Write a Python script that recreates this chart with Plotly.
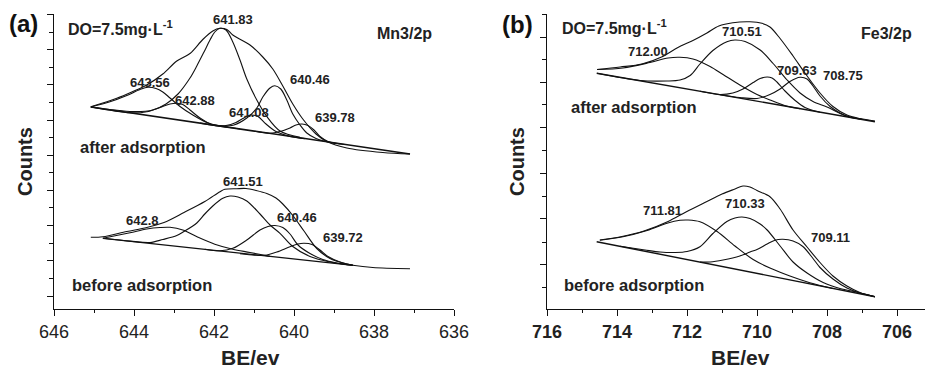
import plotly.graph_objects as go

FONT = "Liberation Sans, Arial, sans-serif"
INK = "#111111"

# ---------------- Panel (a): Mn 2p3/2 ----------------
# after adsorption
mn_after_base_be = [645.08, 637.10]
mn_after_base_cts = [202.0, 155.0]
mn_after_env_be = [645.08, 644.43, 644.03, 643.68, 643.28, 642.93, 642.60, 642.28, 642.03, 641.85, 641.68, 641.53,
                   641.10, 640.78, 640.53, 640.28, 640.03, 639.78, 639.45, 639.18, 638.68, 637.78, 637.10]
mn_after_env_cts = [202.3, 210.8, 217.5, 224, 235, 248, 255.5, 269.5, 278, 280.7, 279.5, 274,
                    264, 252, 240, 223, 205, 190, 175, 167.5, 161, 156.5, 155]
mn_after_p64356_be = [645.08, 644.60, 644.18, 643.85, 643.65, 643.45, 643.28, 643.10, 642.85, 642.53, 642.18, 641.85, 641.35]
mn_after_p64356_cts = [202, 207.2, 213.5, 219.5, 221.7, 220.5, 217, 211, 202.5, 194, 186.5, 183, 180]
mn_after_p64288_be = [645.08, 644.10, 643.68, 643.35, 643.10, 642.93, 642.78, 642.60, 642.35, 642.03, 641.65]
mn_after_p64288_cts = [202, 196.2, 197.3, 201.5, 205, 205.7, 204.5, 199, 191, 184, 181.7]
mn_after_p64183_be = [645.08, 644.03, 643.53, 643.20, 642.90, 642.60, 642.43, 642.25, 642.10, 641.98, 641.85, 641.70,
                      641.53, 641.35, 641.18, 640.93, 640.68, 640.35, 639.85]
mn_after_p64183_cts = [202, 197.5, 199, 205, 215, 231, 243, 257, 269, 277, 280.7, 279,
                       267, 249, 230, 209, 192.5, 178, 171.7]
mn_after_p64108_be = [642.35, 641.98, 641.70, 641.45, 641.28, 641.08, 640.90, 640.70, 640.45, 640.10, 639.73]
mn_after_p64108_cts = [185.9, 183.7, 183.5, 186.5, 190.5, 194, 192.5, 185, 177.5, 172.6, 170.4]
mn_after_p64046_be = [641.85, 641.50, 641.18, 640.93, 640.78, 640.60, 640.48, 640.33, 640.18, 640.03, 639.85, 639.68,
                      639.45, 639.10, 638.73]
mn_after_p64046_cts = [183, 184, 191, 201, 212, 221, 223.3, 220, 209, 195, 184, 176, 170.5, 166.5, 164.5]
mn_after_p63978_be = [640.98, 640.60, 640.35, 640.10, 639.95, 639.80, 639.65, 639.50, 639.35, 639.15, 638.85]
mn_after_p63978_cts = [177.8, 175.8, 177.5, 181, 184, 185, 183.5, 179, 172.5, 167.5, 165.2]

# before adsorption
mn_before_base_be = [644.77, 638.52]
mn_before_base_cts = [70.7, 43.7]
mn_before_env_be = [645.08, 644.78, 644.18, 643.68, 643.25, 642.75, 642.23, 641.85, 641.73, 641.43, 641.20, 640.95,
                    640.68, 640.45, 640.28, 640.03, 639.75, 639.43, 639.10, 638.68, 638.53, 638.03, 637.10]
mn_before_env_cts = [71.7, 72.2, 77.5, 81.5, 86.5, 96.5, 107.5, 117.3, 119.7, 120.3, 120.5, 118.5,
                     115.5, 111, 105, 93.5, 78, 60.5, 50.5, 45, 43.8, 41.5, 40.3]
mn_before_p6428_be = [644.78, 644.10, 643.68, 643.35, 643.10, 642.78, 642.40, 641.98, 641.53, 641.10, 640.60]
mn_before_p6428_cts = [70.7, 76.3, 80, 81.5, 81.7, 79, 71.7, 64.7, 59.7, 56.5, 52.6]
mn_before_p64151_be = [644.78, 644.10, 643.60, 643.28, 642.93, 642.75, 642.43, 642.23, 642.03, 641.78, 641.60, 641.40,
                       641.18, 640.85, 640.60, 640.35, 640.03, 639.60, 639.10, 638.53]
mn_before_p64151_cts = [70.7, 67.9, 66.5, 69.5, 73.5, 77.5, 86, 95, 103, 110.7, 113, 112,
                        108, 95, 84, 75.7, 62.5, 52.5, 47, 43.7]
mn_before_p64046_be = [642.23, 641.85, 641.53, 641.18, 640.85, 640.65, 640.48, 640.28, 640.10, 639.90, 639.60, 639.28,
                       638.93, 638.53]
mn_before_p64046_cts = [59.7, 58.2, 60.7, 69, 79, 82.5, 83.5, 81.5, 75, 64, 55.5, 49.5, 46, 43.7]
mn_before_p63972_be = [641.35, 640.98, 640.73, 640.43, 640.10, 639.90, 639.75, 639.55, 639.35, 639.15, 638.85, 638.53]
mn_before_p63972_cts = [55.3, 53.8, 53.7, 57, 62.3, 65, 65.7, 64.5, 59, 52.5, 47, 43.7]

# ---------------- Panel (b): Fe 2p3/2 ----------------
fe_after_base_be = [714.58, 706.63]
fe_after_base_cts = [235.7, 187.3]
fe_after_env_be = [714.57, 713.91, 713.29, 712.71, 712.26, 711.83, 711.43, 711.09, 710.69, 710.20, 709.86, 709.63,
                   709.34, 708.97, 708.60, 708.20, 707.83, 707.43, 707.06, 706.63]
fe_after_env_cts = [239.5, 242, 245, 252.3, 261.5, 268.5, 276, 283, 286.3, 287.2, 285.7, 282,
                    270.5, 253, 234.5, 216, 202.5, 194, 190.5, 188]
fe_after_p71200_be = [714.57, 713.83, 713.06, 712.54, 712.20, 711.83, 711.34, 710.97, 710.49, 710.00, 709.63, 709.14, 708.77]
fe_after_p71200_cts = [239.5, 241, 246.5, 251, 251.7, 250, 242.5, 234.5, 224, 214.5, 209, 202.7, 200.4]
fe_after_p71051_be = [714.57, 713.34, 712.57, 712.20, 711.91, 711.63, 711.26, 710.86, 710.63, 710.34, 709.91, 709.54,
                      709.14, 708.77, 708.40, 708.00, 707.49, 707.06]
fe_after_p71051_cts = [235.7, 228.5, 228, 229, 233.5, 245, 258.5, 267.3, 269, 267.5, 259, 245.5,
                       229, 216, 207.5, 202, 193.5, 190]
fe_after_p70963_be = [711.63, 711.06, 710.69, 710.40, 710.11, 709.91, 709.71, 709.57, 709.43, 709.20, 708.91, 708.63, 708.20]
fe_after_p70963_cts = [217.7, 214.5, 216, 220, 226.5, 230.5, 232, 231, 227, 218, 208.5, 201.5, 196.7]
fe_after_p70875_be = [711.06, 710.49, 710.00, 709.63, 709.34, 709.06, 708.77, 708.57, 708.40, 708.20, 707.91, 707.63,
                      707.34, 707.00]
fe_after_p70875_cts = [214.3, 211.5, 210.5, 214.5, 220, 227.5, 231.7, 230, 223, 213, 202.5, 196, 191.7, 189.6]

fe_before_base_be = [714.58, 706.63]
fe_before_base_cts = [67.3, 12.3]
fe_before_env_be = [714.49, 713.89, 713.23, 712.54, 712.03, 711.49, 711.00, 710.63, 710.40, 710.20, 710.00, 709.63,
                    709.34, 708.97, 708.57, 708.20, 707.83, 707.43, 707.06, 706.63]
fe_before_env_cts = [69, 72.3, 78, 87.5, 97, 106.5, 115, 120, 123, 122, 118.5, 112.3,
                     100, 79, 62, 46.5, 33, 23, 16.5, 12.3]
fe_before_p71181_be = [714.49, 713.83, 713.14, 712.57, 712.20, 711.97, 711.63, 711.14, 710.63, 710.11, 709.63, 709.06,
                       708.49, 707.83]
fe_before_p71181_cts = [68.7, 72.2, 78.5, 85.7, 88.7, 89, 87.3, 77.5, 63, 49.5, 41, 33, 26.3, 20.5]
fe_before_p71033_be = [713.91, 713.20, 712.77, 712.34, 712.00, 711.63, 711.26, 710.86, 710.63, 710.43, 710.20, 709.91,
                       709.71, 709.34, 708.97, 708.57, 708.11, 707.63, 707.11, 706.63]
fe_before_p71033_cts = [62.7, 59, 57, 56.5, 57.5, 62.3, 75.5, 87.5, 91, 92, 90.5, 85,
                        79, 63, 47, 36, 26.5, 20.5, 16.5, 12.3]
fe_before_p70911_be = [711.63, 711.34, 710.97, 710.49, 710.20, 710.00, 709.71, 709.49, 709.26, 708.97, 708.69, 708.40,
                       708.20, 707.83, 707.43, 707.06, 706.63]
fe_before_p70911_cts = [46.9, 47, 49, 53, 57, 59.5, 65, 68.8, 69.7, 68, 62.5, 50.5, 41.5, 30, 21, 16, 12.3]

# ---------------- axes ticks ----------------
mn_be_ticks = [646, 644, 642, 640, 638, 636]
fe_be_ticks = [716, 714, 712, 710, 708, 706]
mn_cts_major = [13, 49, 84, 119, 154, 189, 225, 260, 295]
mn_cts_minor = [31, 66, 102, 137, 172, 207, 242, 277]
fe_cts_major = [45, 91, 136, 182, 227, 272]
fe_cts_minor = [22, 67, 113, 159, 205, 250, 295]

# peak labels (text, BE, counts)
mn_labels = ["641.83", "643.56", "642.88", "641.08", "640.46", "639.78", "641.51", "642.8", "640.46", "639.72"]
mn_label_be = [641.52, 643.60, 642.48, 641.12, 639.60, 638.98, 641.28, 643.80, 639.92, 638.78]
mn_label_cts = [289, 227, 209, 197, 230, 192, 128, 89, 92, 72]
fe_labels = ["710.51", "712.00", "709.63", "708.75", "711.81", "710.33", "709.11"]
fe_label_be = [710.43, 713.11, 708.86, 707.54, 712.71, 710.34, 707.91]
fe_label_cts = [277, 257, 239, 234, 99, 106, 72]

fig = go.Figure()


def add_curve(be, cts, xa, ya, shape="spline", width=1.1):
    fig.add_trace(go.Scatter(
        x=be, y=cts, mode="lines", xaxis=xa, yaxis=ya, hoverinfo="skip", showlegend=False,
        line=dict(color=INK, width=width, shape=shape, smoothing=0.9 if shape == "spline" else None)))


for be, cts in [(mn_after_p64356_be, mn_after_p64356_cts), (mn_after_p64288_be, mn_after_p64288_cts),
                (mn_after_p64183_be, mn_after_p64183_cts), (mn_after_p64108_be, mn_after_p64108_cts),
                (mn_after_p64046_be, mn_after_p64046_cts), (mn_after_p63978_be, mn_after_p63978_cts),
                (mn_after_env_be, mn_after_env_cts),
                (mn_before_p6428_be, mn_before_p6428_cts), (mn_before_p64151_be, mn_before_p64151_cts),
                (mn_before_p64046_be, mn_before_p64046_cts), (mn_before_p63972_be, mn_before_p63972_cts),
                (mn_before_env_be, mn_before_env_cts)]:
    add_curve(be, cts, "x", "y")
add_curve(mn_after_base_be, mn_after_base_cts, "x", "y", shape="linear", width=1.6)
add_curve(mn_before_base_be, mn_before_base_cts, "x", "y", shape="linear", width=1.2)

for be, cts in [(fe_after_p71200_be, fe_after_p71200_cts), (fe_after_p71051_be, fe_after_p71051_cts),
                (fe_after_p70963_be, fe_after_p70963_cts), (fe_after_p70875_be, fe_after_p70875_cts),
                (fe_after_env_be, fe_after_env_cts),
                (fe_before_p71181_be, fe_before_p71181_cts), (fe_before_p71033_be, fe_before_p71033_cts),
                (fe_before_p70911_be, fe_before_p70911_cts), (fe_before_env_be, fe_before_env_cts)]:
    add_curve(be, cts, "x2", "y2")
add_curve(fe_after_base_be, fe_after_base_cts, "x2", "y2", shape="linear", width=1.4)
add_curve(fe_before_base_be, fe_before_base_cts, "x2", "y2", shape="linear", width=1.4)

W, H = 925, 369
ydom = [(369 - 309) / H, (369 - 14) / H]


def xaxis_cfg(dom, rng, ticks, bold):
    return dict(domain=dom, range=rng, tickvals=ticks, ticktext=[str(t) for t in ticks], automargin=False,
                ticks="outside", ticklen=6, tickwidth=1.2, tickcolor=INK,
                minor=dict(dtick=1, ticks="outside", ticklen=3, tickwidth=1.1, tickcolor=INK),
                showline=True, linecolor=INK, linewidth=1.3, showgrid=False, zeroline=False,
                tickfont=dict(family=FONT, size=18, color="#222", weight="bold" if bold else "normal"))


def yaxis_cfg(anchor, major, minor):
    return dict(domain=ydom, range=[0, 295], anchor=anchor, tickvals=major, showticklabels=False,
                automargin=False, ticks="outside", ticklen=6, tickwidth=1.2, tickcolor=INK,
                minor=dict(tickvals=minor, ticks="outside", ticklen=4, tickwidth=1.1, tickcolor=INK),
                showline=True, linecolor=INK, linewidth=1.3, showgrid=False, zeroline=False)


fig.update_layout(
    width=W, height=H, autosize=False, margin=dict(l=0, r=0, t=0, b=0, pad=0),
    paper_bgcolor="white", plot_bgcolor="white", showlegend=False,
    xaxis=dict(anchor="y", **xaxis_cfg([54 / W, 454 / W], [646, 636], mn_be_ticks, False)),
    yaxis=yaxis_cfg("x", mn_cts_major, mn_cts_minor),
    xaxis2=dict(anchor="y2", **xaxis_cfg([547 / W, 1.0], [716, 705.2], fe_be_ticks, True)),
    yaxis2=yaxis_cfg("x2", fe_cts_major, fe_cts_minor),
)

C = dict(xanchor="center", yanchor="middle", showarrow=False)
ann = []
lab_font = dict(family=FONT, size=13, color="#222", weight="bold")
for t, xv, yv in zip(mn_labels, mn_label_be, mn_label_cts):
    ann.append(dict(text=t, x=xv, y=yv, xref="x", yref="y", font=lab_font, **C))
for t, xv, yv in zip(fe_labels, fe_label_be, fe_label_cts):
    ann.append(dict(text=t, x=xv, y=yv, xref="x2", yref="y2", font=lab_font, **C))

big = dict(family=FONT, size=16.5, color="#222", weight="bold")
mid = dict(family=FONT, size=16, color="#222", weight="bold")
ttl = dict(family=FONT, size=20, color="#222", weight="bold")
ann += [
    dict(text="after adsorption", x=643.78, y=162, xref="x", yref="y", font=big, **C),
    dict(text="before adsorption", x=643.80, y=24, xref="x", yref="y", font=big, **C),
    dict(text="DO=7.5mg·L<sup>-1</sup>", x=644.33, y=281, xref="x", yref="y", font=mid, **C),
    dict(text="Mn3/2p", x=637.23, y=275, xref="x", yref="y", font=mid, **C),
    dict(text="after adsorption", x=713.51, y=202, xref="x2", yref="y2", font=big, **C),
    dict(text="before adsorption", x=713.51, y=24, xref="x2", yref="y2", font=big, **C),
    dict(text="DO=7.5mg·L<sup>-1</sup>", x=714.06, y=282, xref="x2", yref="y2", font=mid, **C),
    dict(text="Fe3/2p", x=706.29, y=275, xref="x2", yref="y2", font=mid, **C),
    dict(text="(a)", x=23 / W, y=1 - 23 / H, xref="paper", yref="paper",
         font=dict(family=FONT, size=24, color="#111", weight="bold"), **C),
    dict(text="(b)", x=517 / W, y=1 - 24 / H, xref="paper", yref="paper",
         font=dict(family=FONT, size=24, color="#111", weight="bold"), **C),
    dict(text="Counts", x=25 / W, y=1 - 162 / H, xref="paper", yref="paper", textangle=-90, font=ttl, **C),
    dict(text="Counts", x=517 / W, y=1 - 162 / H, xref="paper", yref="paper", textangle=-90, font=ttl, **C),
    dict(text="BE/ev", x=250 / W, y=1 - 357 / H, xref="paper", yref="paper",
         font=dict(family=FONT, size=21, color="#222", weight="bold"), **C),
    dict(text="BE/ev", x=740 / W, y=1 - 357 / H, xref="paper", yref="paper",
         font=dict(family=FONT, size=21, color="#222", weight="bold"), **C),
]
fig.update_layout(annotations=ann)

fig.write_html("out.html")
